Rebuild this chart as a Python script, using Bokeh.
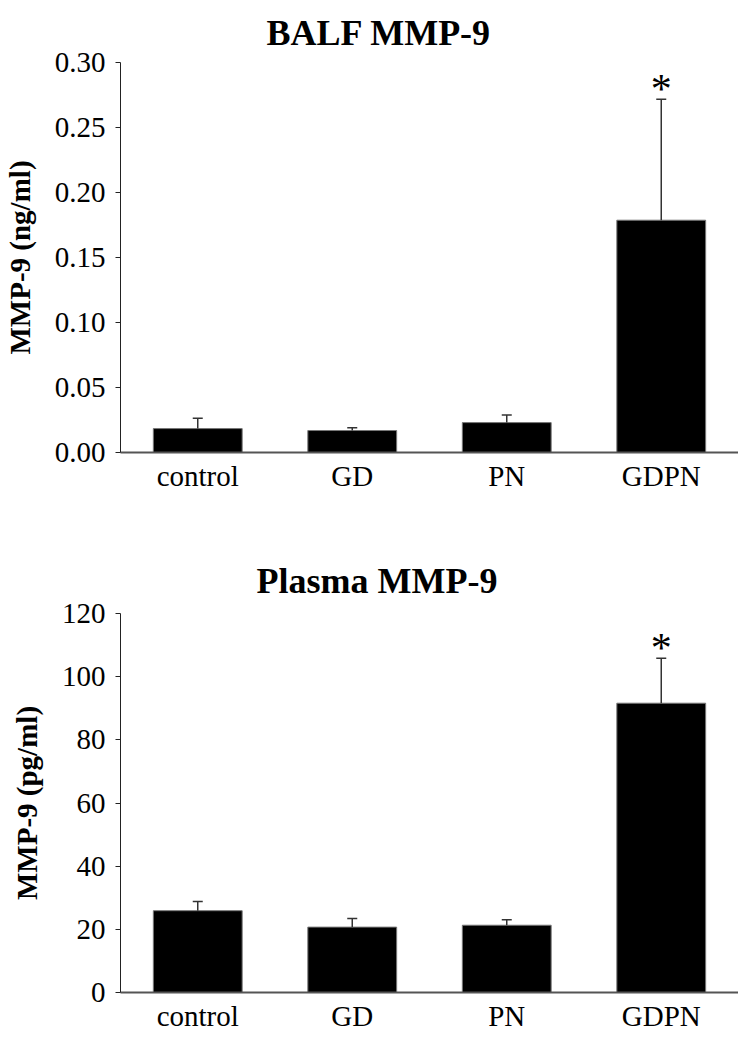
from bokeh.plotting import figure
from bokeh.layouts import column
from bokeh.models import (ColumnDataSource, Whisker, TeeHead, FactorRange, Range1d,
                          NumeralTickFormatter, FixedTicker)
from bokeh.embed import file_html
from bokeh.resources import INLINE
from bokeh.core.properties import value

groups = ["control", "GD", "PN", "GDPN"]
balf_mean = [0.0184, 0.0169, 0.0230, 0.1787]
balf_sem = [0.0079, 0.0022, 0.0059, 0.0931]
plasma_mean = [25.9, 20.7, 21.3, 91.6]
plasma_sem = [2.9, 2.7, 1.7, 14.2]
balf_ticks = [0, 0.05, 0.10, 0.15, 0.20, 0.25, 0.30]
plasma_ticks = [0, 20, 40, 60, 80, 100, 120]
significant = ["", "", "", "*"]

FONT = "Liberation Serif"


def make(title, ylabel, means, sems, ticks, fmt, height, border_top, title_standoff,
         border_bottom, title_offset):
    upper = [m + s for m, s in zip(means, sems)]
    src = ColumnDataSource(dict(g=groups, m=means, up=upper, star=significant))
    p = figure(x_range=FactorRange(*groups), y_range=Range1d(ticks[0], ticks[-1]),
               width=738, height=height, output_backend="svg", toolbar_location=None,
               min_border_left=106, min_border_right=0, min_border_top=border_top,
               min_border_bottom=border_bottom)
    p.vbar(x="g", top="m", width=0.575, source=src, fill_color="black",
           line_color="#777777", line_width=1)
    w = Whisker(source=src, base="g", lower="m", upper="up", dimension="height",
                lower_head=None,
                upper_head=TeeHead(size=10, line_width=1.5, line_color="#333333"),
                line_width=1.5, line_color="#333333", level="overlay")
    p.add_layout(w)
    p.text(x="g", y="up", text="star", source=src, text_font=value(FONT),
           text_font_size="42px", text_align="center", text_baseline="alphabetic",
           text_color="black", y_offset=-10)

    p.title.text = title
    p.title.text_font = FONT
    p.title.text_font_size = "36px"
    p.title.text_font_style = "bold"
    p.title.text_color = "black"
    p.title.align = "left"
    p.title.offset = title_offset
    p.title.standoff = title_standoff

    p.xgrid.grid_line_color = None
    p.ygrid.grid_line_color = None
    p.outline_line_color = None

    p.yaxis.ticker = FixedTicker(ticks=ticks)
    p.yaxis.formatter = NumeralTickFormatter(format=fmt)
    p.yaxis.major_tick_out = 5
    p.yaxis.major_tick_in = 0
    p.yaxis.minor_tick_line_color = None
    p.yaxis.axis_line_color = "#222222"
    p.yaxis.major_tick_line_color = "#222222"
    p.yaxis.major_label_standoff = 10
    p.yaxis.axis_label = ylabel
    p.yaxis.axis_label_text_font = FONT
    p.yaxis.axis_label_text_font_size = "29px"
    p.yaxis.axis_label_text_font_style = "bold"
    p.yaxis.axis_label_text_color = "black"
    p.yaxis.axis_label_standoff = 16

    p.xaxis.major_tick_line_color = None
    p.xaxis.major_tick_out = 0
    p.xaxis.axis_line_color = "#555555"
    p.xaxis.axis_line_width = 2
    p.xaxis.major_label_standoff = 7

    for ax in (p.xaxis, p.yaxis):
        ax.major_label_text_font = FONT
        ax.major_label_text_font_size = "29px"
        ax.major_label_text_color = "black"
    return p


p1 = make("BALF MMP-9", "MMP-9 (ng/ml)", balf_mean, balf_sem, balf_ticks, "0.00",
          height=502, border_top=51, title_standoff=20, border_bottom=50, title_offset=146)
p2 = make("Plasma MMP-9", "MMP-9 (pg/ml)", plasma_mean, plasma_sem, plasma_ticks, "0",
          height=532, border_top=111, title_standoff=26, border_bottom=38, title_offset=136)

layout = column(p1, p2)
open("out.html", "w").write(file_html(layout, INLINE))
